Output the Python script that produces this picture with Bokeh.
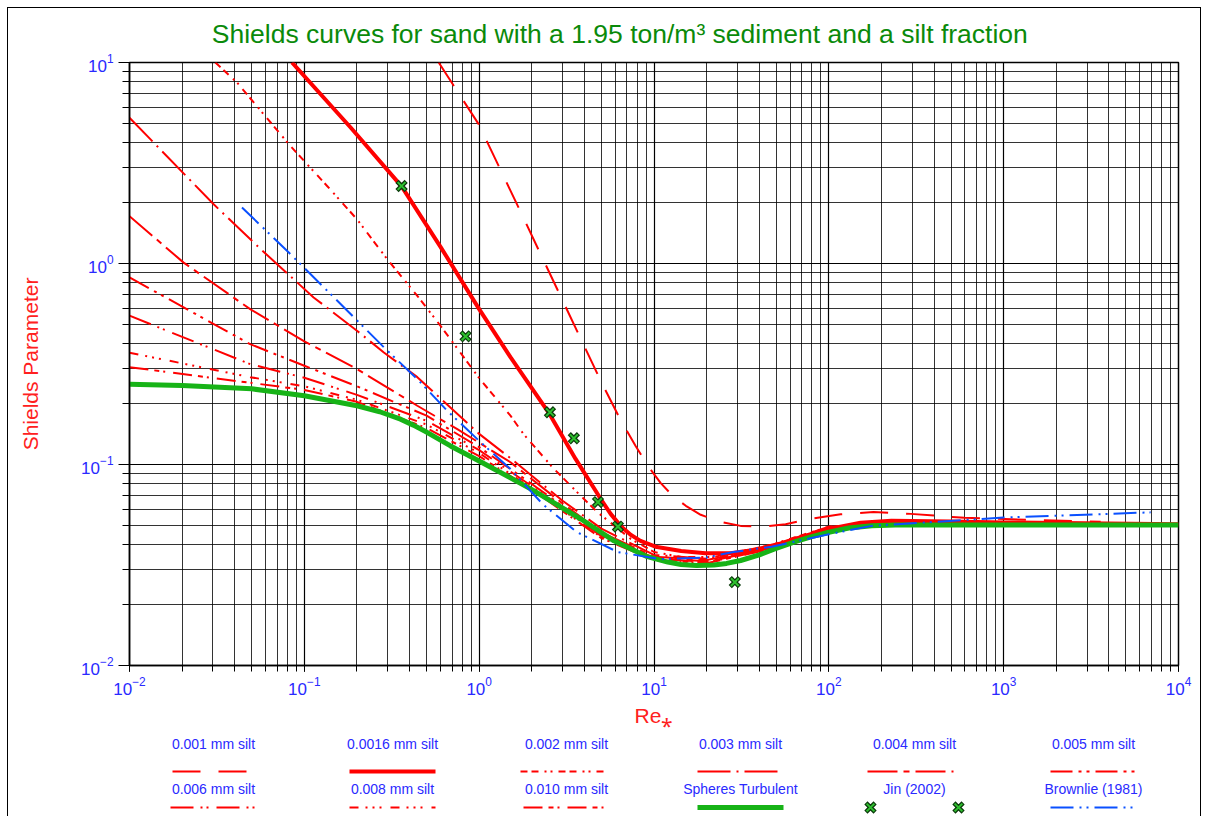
from bokeh.plotting import figure
from bokeh.models import Range1d
from bokeh.layouts import column
from bokeh.embed import file_html
from bokeh.resources import INLINE
from bokeh.core.properties import value

FONT = "Liberation Sans"

# ---------------- data ----------------
re_sph = [0.01, 0.02, 0.05, 0.1, 0.2, 0.27, 0.355, 0.42, 0.5, 0.686, 1.0, 1.51, 1.97, 3.8, 5.9, 9.16, 12, 14.3, 17.5, 22, 26, 31.3, 40, 49, 65, 80, 100, 130, 176, 240, 1000, 10000]
th_sph = [0.251, 0.247, 0.238, 0.22, 0.196, 0.183, 0.168, 0.157, 0.145, 0.1237, 0.104, 0.0858, 0.0756, 0.0537, 0.0417, 0.0348, 0.0327, 0.0318, 0.0314, 0.0316, 0.0322, 0.0333, 0.0355, 0.038, 0.0415, 0.0438, 0.046, 0.0483, 0.0496, 0.05, 0.05, 0.05]

re_001 = [0.587, 0.995, 1.73, 2.92, 5.06, 6.44, 7.85, 9.31, 10.9, 12.8, 15.2, 18.5, 24.0, 31.3, 40.7, 56.6, 78.7, 116.8, 180, 294, 598, 1672, 3588]
th_001 = [10, 4.92, 1.80, 0.688, 0.2513, 0.1665, 0.1237, 0.0973, 0.081, 0.0698, 0.0623, 0.0562, 0.0519, 0.0495, 0.049, 0.0504, 0.0537, 0.0565, 0.058, 0.0568, 0.0543, 0.0528, 0.0519]

re_0016 = [0.085, 0.184, 0.36, 0.601, 1.0, 1.51, 2.53, 3.56, 4.95, 5.65, 6.44, 7.35, 8.37, 10.2, 14.3, 19.7, 27.4, 38.1, 53, 73.6, 100, 152, 228, 500, 1000, 10000]
th_0016 = [10, 4.75, 2.42, 1.21, 0.593, 0.342, 0.178, 0.1066, 0.0675, 0.0568, 0.0495, 0.0447, 0.0417, 0.039, 0.0371, 0.0362, 0.0362, 0.0377, 0.0405, 0.0442, 0.0478, 0.0513, 0.0525, 0.052, 0.0515, 0.0505]

re_002 = [0.031, 0.0413, 0.0833, 0.135, 0.2, 0.298, 0.443, 0.601, 1.01, 1.51, 1.79, 2.62, 3.8, 4.74, 7.35, 10, 14.3, 22, 45, 100, 300, 1000, 5000]
th_002 = [10, 7.93, 3.84, 2.43, 1.66, 1.05, 0.69, 0.49, 0.266, 0.175, 0.142, 0.097, 0.070, 0.058, 0.0427, 0.0367, 0.0347, 0.0347, 0.0395, 0.049, 0.0515, 0.051, 0.0505]

re_003 = [0.01, 0.0303, 0.0562, 0.113, 0.2, 0.285, 0.443, 1.0, 1.5, 2.0, 3.0, 5.0, 10, 20, 50, 100, 300, 1000, 5000]
th_003 = [5.31, 1.97, 1.18, 0.678, 0.463, 0.361, 0.272, 0.142, 0.108, 0.088, 0.066, 0.048, 0.0355, 0.034, 0.040, 0.049, 0.051, 0.051, 0.0505]

re_004 = [0.01, 0.0204, 0.049, 0.1, 0.2, 0.443, 0.75, 1.51, 3.0, 5.0, 10, 20, 50, 100, 300, 1000, 5000]
th_004 = [1.72, 1.01, 0.593, 0.41, 0.2985, 0.196, 0.150, 0.1026, 0.064, 0.046, 0.0348, 0.0335, 0.039, 0.048, 0.051, 0.051, 0.0505]

re_fan = [0.01, 0.049, 0.1, 0.2, 0.5, 1.0, 2.0, 5.0, 10, 20, 50, 100, 300, 1000, 5000]
th_005 = [0.852, 0.397, 0.31, 0.245, 0.175, 0.122, 0.08, 0.045, 0.0343, 0.033, 0.039, 0.048, 0.051, 0.051, 0.0505]
th_006 = [0.55, 0.316, 0.27, 0.222, 0.165, 0.118, 0.078, 0.044, 0.034, 0.0328, 0.0388, 0.0478, 0.0508, 0.0508, 0.0504]
th_008 = [0.36, 0.272, 0.245, 0.21, 0.158, 0.114, 0.076, 0.0435, 0.0338, 0.0325, 0.0386, 0.0476, 0.0506, 0.0506, 0.0503]
th_010 = [0.305, 0.255, 0.235, 0.205, 0.152, 0.11, 0.075, 0.043, 0.0335, 0.0323, 0.0385, 0.0475, 0.0505, 0.0505, 0.0502]

re_brown = [0.044, 0.0815, 0.124, 0.285, 0.443, 0.657, 1.02, 1.51, 2.3, 3.6, 6.2, 10.9, 20, 28.5, 47, 100, 176, 490, 1000, 2265, 6930]
th_brown = [1.90, 1.134, 0.789, 0.383, 0.266, 0.185, 0.129, 0.095, 0.0637, 0.0462, 0.0367, 0.0338, 0.0345, 0.0367, 0.039, 0.045, 0.0495, 0.0524, 0.0545, 0.0558, 0.0578]

re_jin = [0.36, 0.836, 2.54, 3.48, 4.78, 6.22, 29.0]
th_jin = [2.43, 0.434, 0.182, 0.135, 0.065, 0.0491, 0.026]

title_text = "Shields curves for sand  with a 1.95 ton/m\u00b3 sediment and a silt fraction"

legend_labels = ["0.001 mm silt", "0.0016 mm silt", "0.002 mm silt", "0.003 mm silt", "0.004 mm silt", "0.005 mm silt",
                 "0.006 mm silt", "0.008 mm silt", "0.010 mm silt", "Spheres Turbulent", "Jin (2002)", "Brownlie (1981)"]

RED = "#ff0000"
GREEN = "#17b317"
BLUE = "#0a50ff"
TXT_BLUE = "#2a2aff"

series = [
    (re_001, th_001, RED, 2, "28 18"),
    (re_0016, th_0016, RED, 4, "solid"),
    (re_002, th_002, RED, 2, "7 4 7 6 2 4 2 6"),
    (re_003, th_003, RED, 2, "33 6 2 6"),
    (re_004, th_004, RED, 2, "30 6 6 6"),
    (re_fan, th_005, RED, 2, "22 6 3 5 3 6"),
    (re_fan, th_006, RED, 2, "23 7 2 4 2 8"),
    (re_fan, th_008, RED, 2, "9 7 2 5 2 5 2 9"),
    (re_fan, th_010, RED, 2, "19 6 5 4 2 8"),
    (re_sph, th_sph, GREEN, 5, "solid"),
    None,
    (re_brown, th_brown, BLUE, 2, "23 6 2 5 2 6"),
]

# page coordinates: canvases start at (8, 8) (7px margin + 1px border)
HEAD_TOP, HEAD_H = 8, 42
MAIN_TOP = HEAD_TOP + HEAD_H
MAIN_H = 679
LEG_TOP = MAIN_TOP + MAIN_H
LEG_H = 87

# ---------------- header strip with the title ----------------
head = figure(width=1192, height=HEAD_H, x_range=Range1d(129, 1178), y_range=Range1d(HEAD_TOP + HEAD_H, HEAD_TOP),
              output_backend="svg", toolbar_location=None, min_border=0,
              x_axis_location=None, y_axis_location=None, outline_line_color=None)
head.grid.visible = False
head.text([623], [33], text=[title_text], text_align="center", text_baseline="middle",
          text_font=value(FONT), text_font_size="26.5px", text_color="#0a8a0a")

# ---------------- main figure ----------------
p = figure(width=1192, height=MAIN_H, x_axis_type="log", y_axis_type="log",
           x_range=Range1d(0.01, 10000), y_range=Range1d(0.01, 10),
           output_backend="svg", toolbar_location=None, title=None,
           min_border_left=121, min_border_right=22, min_border_top=12, min_border_bottom=62,
           background_fill_color="white", border_fill_color="white")

for g in (p.xgrid, p.ygrid):
    g.grid_line_color = "black"
    g.grid_line_width = 1.2
    g.minor_grid_line_color = "black"
    g.minor_grid_line_alpha = 0.8
    g.minor_grid_line_width = 1

p.outline_line_color = "black"
p.outline_line_width = 1.5

for ax in (p.xaxis, p.yaxis):
    ax.axis_line_color = "black"
    ax.axis_line_width = 1.5
    ax.major_tick_line_color = "black"
    ax.minor_tick_line_color = "black"
    ax.major_label_text_color = TXT_BLUE
    ax.major_label_text_font = FONT
    ax.major_label_text_font_size = "17px"
    ax.axis_label_text_color = "#ff2020"
    ax.axis_label_text_font = FONT
    ax.axis_label_text_font_size = "21px"
    ax.axis_label_text_font_style = "normal"

p.xaxis.major_tick_in = 0
p.xaxis.major_tick_out = 6
p.xaxis.minor_tick_in = 0
p.xaxis.minor_tick_out = 6
p.yaxis.major_tick_in = 0
p.yaxis.major_tick_out = 11
p.yaxis.minor_tick_in = 0
p.yaxis.minor_tick_out = 7
p.xaxis.axis_label = "Re\u204e"
p.yaxis.axis_label = "Shields Parameter"
p.yaxis.axis_label_standoff = 36
p.xaxis.axis_label_standoff = 6

for s in series:
    if s is None:
        continue
    xs, ys, c, w, d = s
    p.line(xs, ys, line_color=c, line_width=w, line_dash=d)

p.scatter(re_jin, th_jin, marker="x", size=13, line_width=4.5, line_color="#0b3a0b")
p.scatter(re_jin, th_jin, marker="x", size=11, line_width=2, line_color="#2fc02f")

# ---------------- legend strip (frame aligned with the main frame) ----------------
leg = figure(width=1192, height=LEG_H, x_range=Range1d(129, 1178), y_range=Range1d(LEG_TOP + LEG_H, LEG_TOP),
             output_backend="svg", toolbar_location=None, min_border=0,
             x_axis_location=None, y_axis_location=None, outline_line_color=None)
leg.grid.visible = False

col_x = [213, 392, 566, 740, 914, 1093]
row_label_y = [743, 788]
row_line_y = [771, 807]
sample_half = [37, 43, 43, 43, 43, 43, 43, 43, 43, 43, 44, 43]
sample_shift = [-4, 0, -3, 0, -4, 0, 0, 0, 0, 0, 0, 0]

lx, ly = [], []
for i, lab in enumerate(legend_labels):
    lx.append(col_x[i % 6])
    ly.append(row_label_y[i // 6])
leg.text(lx, ly, text=legend_labels, text_align="center", text_baseline="middle",
         text_font=value(FONT), text_font_size="14px", text_color=TXT_BLUE)

for i, s in enumerate(series):
    cx = col_x[i % 6] + sample_shift[i]
    cy = row_line_y[i // 6]
    h = sample_half[i]
    if s is None:
        leg.scatter([cx - h, cx + h], [cy, cy], marker="x", size=13, line_width=4.5, line_color="#0b3a0b")
        leg.scatter([cx - h, cx + h], [cy, cy], marker="x", size=11, line_width=2, line_color="#2fc02f")
        continue
    _, _, c, w, d = s
    leg.line([cx - h, cx + h], [cy, cy], line_color=c, line_width=w, line_dash=d)

layout = column(head, p, leg, spacing=0,
                styles={"margin": "7px 0px 0px 7px",
                        "border-top": "1px solid black",
                        "border-left": "1px solid black",
                        "border-right": "1px solid black"})

open("out.html", "w").write(file_html(layout, INLINE))
